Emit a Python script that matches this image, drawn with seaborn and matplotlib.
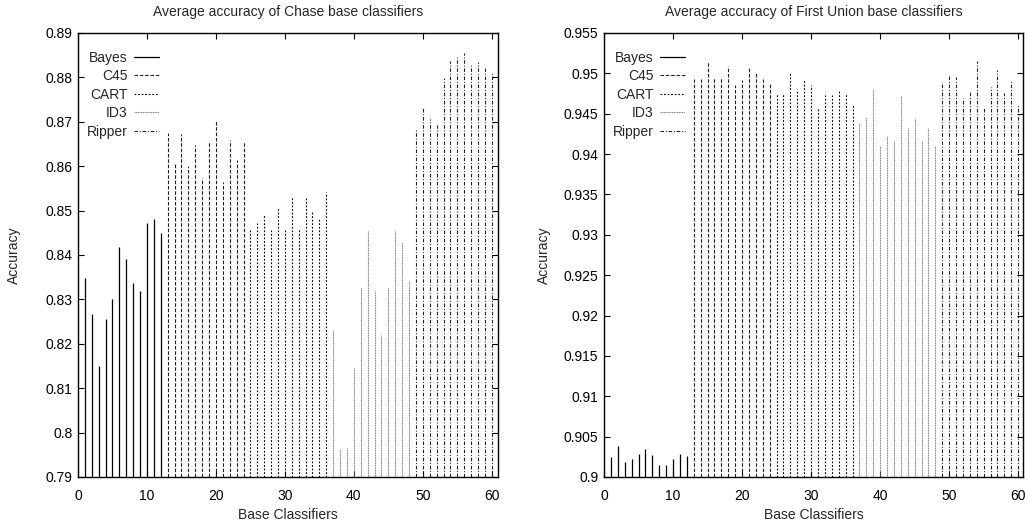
import numpy as np
import pandas as pd
import matplotlib
matplotlib.use("Agg")
import matplotlib.pyplot as plt
from matplotlib.lines import Line2D
from matplotlib.ticker import FuncFormatter, MultipleLocator
import seaborn as sns

# ---------------- data ----------------
learners = ["Bayes", "C45", "CART", "ID3", "Ripper"]
classifier_ids = list(range(1, 61))

chase_bayes = [0.8349, 0.8266, 0.8149, 0.8256, 0.8302, 0.8419, 0.8391, 0.8338, 0.8319, 0.8472, 0.8481, 0.8450]
chase_c45 = [0.8674, 0.8605, 0.8673, 0.8600, 0.8647, 0.8573, 0.8655, 0.8702, 0.8564, 0.8658, 0.8615, 0.8656]
chase_cart = [0.8460, 0.8473, 0.8493, 0.8457, 0.8508, 0.8461, 0.8532, 0.8461, 0.8532, 0.8496, 0.8481, 0.8543]
chase_id3 = [0.8232, 0.7963, 0.7965, 0.8145, 0.8329, 0.8455, 0.8318, 0.8219, 0.8329, 0.8457, 0.8429, 0.8341]
chase_ripper = [0.8683, 0.8730, 0.8707, 0.8692, 0.8799, 0.8838, 0.8845, 0.8856, 0.8829, 0.8834, 0.8822, 0.8813]

fu_bayes = [0.90242, 0.90383, 0.90183, 0.90217, 0.90283, 0.90342, 0.90267, 0.90146, 0.90150, 0.90225, 0.90288, 0.90254]
fu_c45 = [0.94926, 0.94926, 0.95148, 0.94950, 0.94950, 0.95090, 0.94856, 0.94918, 0.95066, 0.95008, 0.94926, 0.94877]
fu_cart = [0.94750, 0.94751, 0.95004, 0.94810, 0.94934, 0.94852, 0.94564, 0.94730, 0.94737, 0.94794, 0.94745, 0.94621]
fu_id3 = [0.94383, 0.94465, 0.94810, 0.94103, 0.94226, 0.94165, 0.94720, 0.94325, 0.94449, 0.94160, 0.94325, 0.94103]
fu_ripper = [0.94893, 0.94975, 0.94950, 0.94695, 0.94770, 0.95148, 0.94572, 0.94827, 0.95037, 0.94753, 0.94909, 0.94613]

chase_title = "Average accuracy of Chase base classifiers"
fu_title = "Average accuracy of First Union base classifiers"
x_label = "Base Classifiers"
y_label = "Accuracy"

# ---------------- style ----------------
sns.set_style("ticks")
plt.rcParams["font.family"] = ["Liberation Sans", "DejaVu Sans"]
plt.rcParams["font.size"] = 10

styles = {
    "Bayes": dict(color="black", linestyle="-", lw=0.9),
    "C45": dict(color="#222222", linestyle=(0, (3.2, 1.6)), lw=0.8),
    "CART": dict(color="black", linestyle=(0, (1.6, 1.6)), lw=0.8),
    "ID3": dict(color="#7a7a7a", linestyle=(0, (0.9, 0.6)), lw=0.8),
    "Ripper": dict(color="#222222", linestyle=(0, (3.2, 1.6, 0.9, 1.6)), lw=0.8),
}


def build_frame(series):
    vals = []
    for s in series:
        vals.extend(s)
    return pd.DataFrame({
        "id": classifier_ids,
        "learner": np.repeat(learners, 12),
        "acc": vals,
    })


chase_df = build_frame([chase_bayes, chase_c45, chase_cart, chase_id3, chase_ripper])
fu_df = build_frame([fu_bayes, fu_c45, fu_cart, fu_id3, fu_ripper])

W, H = 1027, 523
fig = plt.figure(figsize=(W / 100, H / 100), dpi=100)


def px_axes(l, t, r, b):
    return fig.add_axes([l / W, 1 - b / H, (r - l) / W, (b - t) / H])


ax1 = px_axes(78, 33, 498, 477)
ax2 = px_axes(604, 33, 1023, 477)


def draw(ax, df, ylim, ymajor, xmax, title, ylab_x):
    for name in learners:
        sub = df[df["learner"] == name]
        ax.vlines(sub["id"], ylim[0], sub["acc"], **styles[name])
    ax.set_xlim(0, xmax)
    ax.set_ylim(*ylim)
    ax.xaxis.set_major_locator(MultipleLocator(10))
    ax.yaxis.set_major_locator(MultipleLocator(ymajor))
    ax.yaxis.set_major_formatter(FuncFormatter(lambda v, p: f"{round(v, 4):g}"))
    ax.tick_params(direction="in", length=4.5, width=0.8, top=True, right=True,
                   labelsize=10, colors="black")
    ax.tick_params(axis="x", pad=8.5)
    ax.tick_params(axis="y", pad=4)
    for sp in ax.spines.values():
        sp.set_visible(True)
        sp.set_linewidth(1.0)
        sp.set_color("black")
    ax.set_title(title, fontsize=10, pad=12.5)
    ax.set_xlabel(x_label, fontsize=10, labelpad=4)
    ax.set_ylabel(y_label, fontsize=10)
    ax.yaxis.set_label_coords(ylab_x, 0.5)
    handles = [Line2D([0], [0], **styles[n]) for n in learners]
    ax.legend(handles, learners, loc="upper left", bbox_to_anchor=(0.02, 0.96),
              frameon=False, markerfirst=False, handlelength=1.8,
              handletextpad=0.45, labelspacing=0.32, borderpad=0,
              borderaxespad=0, fontsize=10)


draw(ax1, chase_df, (0.79, 0.89), 0.01, 60.9, chase_title, -0.136)
draw(ax2, fu_df, (0.9, 0.955), 0.005, 60.7, fu_title, -0.126)

fig.savefig("out.png", dpi=100)
